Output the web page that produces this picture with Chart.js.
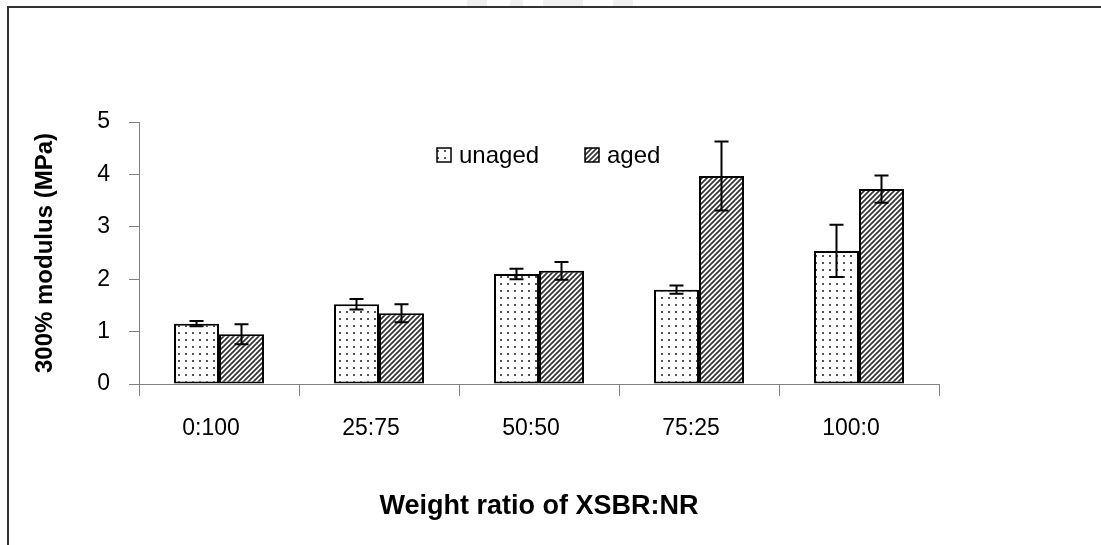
<!DOCTYPE html>
<html>
<head>
<meta charset="utf-8">
<title>300% modulus vs XSBR:NR ratio</title>
<script src="https://cdn.jsdelivr.net/npm/chart.js@4.4.1/dist/chart.umd.min.js"></script>
<style>
    html, body { margin: 0; padding: 0; background: #fff; }
    #wrap { width: 1101px; height: 545px; }
</style>
</head>
<body>
<div id="wrap"><canvas id="chartModulus" width="1101" height="545"></canvas></div>
<script>
// Data
const categories = ['0:100', '25:75', '50:50', '75:25', '100:0'];
const unaged = [1.15, 1.52, 2.10, 1.80, 2.54];
const unagedErr = [0.05, 0.10, 0.10, 0.08, 0.50];
const aged = [0.95, 1.35, 2.16, 3.97, 3.72];
const agedErr = [0.19, 0.17, 0.17, 0.66, 0.26];
const yTicks = [0, 1, 2, 3, 4, 5];

const FONT = '"Liberation Sans", Arial, sans-serif';

// Dotted fill (unaged)
function makeDotPattern() {
    const c = document.createElement('canvas');
    c.width = 7; c.height = 7;
    const g = c.getContext('2d');
    g.fillStyle = '#fff';
    g.fillRect(0, 0, 7, 7);
    g.fillStyle = '#555';
    g.fillRect(3, 3, 2, 2);
    return g.createPattern(c, 'repeat');
}

// Diagonal hatch fill (aged)
function makeHatchPattern() {
    const s = 5;
    const c = document.createElement('canvas');
    c.width = s; c.height = s;
    const g = c.getContext('2d');
    g.fillStyle = '#fff';
    g.fillRect(0, 0, s, s);
    g.strokeStyle = '#333';
    g.lineWidth = 1.7;
    g.beginPath();
    g.moveTo(0, s); g.lineTo(s, 0);
    g.moveTo(-1, 1); g.lineTo(1, -1);
    g.moveTo(s - 1, s + 1); g.lineTo(s + 1, s - 1);
    g.stroke();
    return g.createPattern(c, 'repeat');
}

const dotFill = makeDotPattern();
const hatchFill = makeHatchPattern();

// Page frame (top and left rules) plus the faint mark at the top
const framePlugin = {
    id: 'frame',
    beforeDraw(chart) {
        const ctx = chart.ctx;
        ctx.save();
        ctx.fillStyle = '#fff';
        ctx.fillRect(0, 0, chart.width, chart.height);
        ctx.fillStyle = '#f0f0f0';
        [[467, 487], [510, 523], [543, 583], [613, 633]].forEach(function (p) {
            ctx.fillRect(p[0], 0, p[1] - p[0], 6);
        });
        ctx.strokeStyle = '#333';
        ctx.lineWidth = 2;
        ctx.beginPath();
        ctx.moveTo(8, chart.height);
        ctx.lineTo(8, 7);
        ctx.lineTo(chart.width, 7);
        ctx.stroke();
        ctx.restore();
    }
};

// Error bars with caps
const errorBarPlugin = {
    id: 'errorBars',
    afterDatasetsDraw(chart) {
        const ctx = chart.ctx;
        const yScale = chart.scales.y;
        const errs = [unagedErr, agedErr];
        ctx.save();
        ctx.strokeStyle = '#000';
        ctx.lineWidth = 2;
        chart.data.datasets.forEach(function (ds, di) {
            const meta = chart.getDatasetMeta(di);
            meta.data.forEach(function (bar, i) {
                const v = ds.data[i];
                const e = errs[di][i];
                const yTop = yScale.getPixelForValue(v + e);
                const yBot = yScale.getPixelForValue(v - e);
                const cap = 7;
                ctx.beginPath();
                ctx.moveTo(bar.x, yTop); ctx.lineTo(bar.x, yBot);
                ctx.moveTo(bar.x - cap, yTop); ctx.lineTo(bar.x + cap, yTop);
                ctx.moveTo(bar.x - cap, yBot); ctx.lineTo(bar.x + cap, yBot);
                ctx.stroke();
            });
        });
        ctx.restore();
    }
};

// Legend drawn inside the plot area
const legendPlugin = {
    id: 'innerLegend',
    afterDraw(chart) {
        const ctx = chart.ctx;
        const a = chart.chartArea;
        const items = [
            { label: 'unaged', fill: dotFill, x: a.left + 298 },
            { label: 'aged', fill: hatchFill, x: a.left + 446 }
        ];
        const top = a.top + 26;
        ctx.save();
        ctx.font = '24px ' + FONT;
        ctx.textBaseline = 'middle';
        items.forEach(function (it) {
            ctx.fillStyle = it.fill;
            ctx.fillRect(it.x, top, 14, 14);
            ctx.strokeStyle = '#000';
            ctx.lineWidth = 1.5;
            ctx.strokeRect(it.x, top, 14, 14);
            ctx.fillStyle = '#000';
            ctx.fillText(it.label, it.x + 22, top + 8);
        });
        ctx.restore();
    }
};

function initChartModulus() {
    const ctx = document.getElementById('chartModulus');
    new Chart(ctx, {
        type: 'bar',
        data: {
            labels: categories,
            datasets: [{
                label: 'unaged',
                data: unaged,
                backgroundColor: dotFill,
                borderColor: '#000',
                borderWidth: 2,
                borderSkipped: false
            }, {
                label: 'aged',
                data: aged,
                backgroundColor: hatchFill,
                borderColor: '#000',
                borderWidth: 2,
                borderSkipped: false
            }]
        },
        options: {
            responsive: false,
            animation: false,
            events: [],
            layout: {
                padding: { top: 122, right: 162, left: 0, bottom: 0 }
            },
            datasets: {
                bar: { categoryPercentage: 0.5625, barPercentage: 1 }
            },
            plugins: {
                legend: { display: false },
                tooltip: { enabled: false }
            },
            scales: {
                x: {
                    afterFit: function (scale) { scale.height = 161; },
                    grid: {
                        offset: true,
                        drawOnChartArea: false,
                        color: '#808080',
                        tickLength: 12
                    },
                    border: { color: '#808080', width: 1 },
                    ticks: {
                        color: '#000',
                        padding: 19,
                        labelOffset: -8,
                        maxRotation: 0,
                        font: { family: FONT, size: 23 }
                    },
                    title: {
                        display: true,
                        text: 'Weight ratio of XSBR:NR',
                        color: '#000',
                        padding: { top: 0, bottom: 22 },
                        font: { family: FONT, size: 27, weight: 'bold' }
                    }
                },
                y: {
                    min: yTicks[0],
                    max: yTicks[yTicks.length - 1],
                    afterFit: function (scale) { scale.width = 139; },
                    afterBuildTicks: function (scale) {
                        scale.ticks = yTicks.map(function (v) { return { value: v }; });
                    },
                    grid: {
                        drawOnChartArea: false,
                        color: '#808080',
                        tickLength: 10
                    },
                    border: { color: '#808080', width: 1 },
                    ticks: {
                        color: '#000',
                        padding: 19,
                        font: { family: FONT, size: 23 }
                    },
                    title: {
                        display: true,
                        text: '300% modulus (MPa)',
                        color: '#000',
                        padding: { top: 31, bottom: 0 },
                        font: { family: FONT, size: 24, weight: 'bold' }
                    }
                }
            }
        },
        plugins: [framePlugin, errorBarPlugin, legendPlugin]
    });
}

document.addEventListener('DOMContentLoaded', function () {
    try {
        initChartModulus();
    } catch (error) {
        console.error('Error initializing chart:', error);
    }
});
</script>
</body>
</html>
